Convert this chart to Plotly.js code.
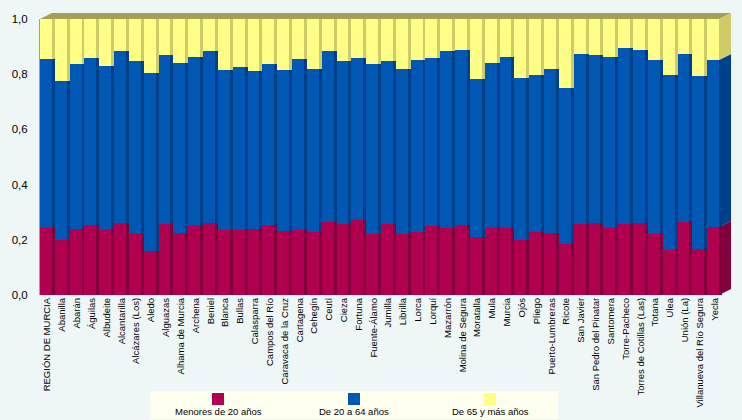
<!DOCTYPE html>
<html>
<head>
<meta charset="utf-8">
<script src="https://cdn.plot.ly/plotly-3.0.1.min.js"></script>
<style>
  body { margin: 0; background: #eef7f6; }
  #chart { width: 742px; height: 420px; }
</style>
</head>
<body>
<div id="chart"></div>
<script>
// municipios de la Región de Murcia
var municipios = ['REGIÓN DE MURCIA', 'Abanilla', 'Abarán', 'Águilas', 'Albudeite', 'Alcantarilla',
  'Alcázares (Los)', 'Aledo', 'Alguazas', 'Alhama de Murcia', 'Archena', 'Beniel', 'Blanca', 'Bullas',
  'Calasparra', 'Campos del Río', 'Caravaca de la Cruz', 'Cartagena', 'Cehegín', 'Ceutí', 'Cieza',
  'Fortuna', 'Fuente-Álamo', 'Jumilla', 'Librilla', 'Lorca', 'Lorquí', 'Mazarrón', 'Molina de Segura',
  'Moratalla', 'Mula', 'Murcia', 'Ojós', 'Pliego', 'Puerto-Lumbreras', 'Ricote', 'San Javier',
  'San Pedro del Pinatar', 'Santomera', 'Torre-Pacheco', 'Torres de Cotillas (Las)', 'Totana', 'Ulea',
  'Unión (La)', 'Villanueva del Río Segura', 'Yecla'];

var menores20 = [0.244, 0.200, 0.239, 0.254, 0.237, 0.262, 0.222, 0.159, 0.257, 0.225, 0.254, 0.261,
  0.237, 0.237, 0.239, 0.254, 0.232, 0.237, 0.229, 0.266, 0.258, 0.273, 0.222, 0.257, 0.221, 0.229,
  0.250, 0.243, 0.254, 0.210, 0.243, 0.243, 0.200, 0.229, 0.225, 0.185, 0.257, 0.261, 0.243, 0.257,
  0.262, 0.222, 0.164, 0.266, 0.167, 0.246];

var de20a64 = [0.611, 0.575, 0.598, 0.605, 0.593, 0.622, 0.626, 0.645, 0.613, 0.616, 0.608, 0.623,
  0.578, 0.589, 0.573, 0.583, 0.583, 0.618, 0.590, 0.618, 0.590, 0.586, 0.615, 0.591, 0.598, 0.622,
  0.609, 0.641, 0.634, 0.573, 0.598, 0.619, 0.586, 0.568, 0.594, 0.565, 0.616, 0.609, 0.619, 0.638,
  0.626, 0.629, 0.633, 0.607, 0.626, 0.605];

var de65 = [0.145, 0.225, 0.163, 0.141, 0.170, 0.116, 0.152, 0.196, 0.130, 0.159, 0.138, 0.116,
  0.185, 0.174, 0.188, 0.163, 0.185, 0.145, 0.181, 0.116, 0.152, 0.141, 0.163, 0.152, 0.181, 0.149,
  0.141, 0.116, 0.112, 0.217, 0.159, 0.138, 0.214, 0.203, 0.181, 0.250, 0.127, 0.130, 0.138, 0.105,
  0.112, 0.149, 0.203, 0.127, 0.207, 0.149];

var nombres = ['Menores de 20 años', 'De 20 a 64 años', 'De 65 y más años'];
var colores = ['#b0004f', '#0058b4', '#ffff88'];
var lados = ['#80003c', '#003f8a', '#cfcb66'];

var series = [menores20, de20a64, de65];

// plot box in pixels
var L = 40, T = 19, W = 682, H = 276;
function px(x) { return (x - L) / W; }
function py(y) { return (T + H - y) / H; }

var data = [];
var bases = [];
var acum = municipios.map(function () { return 0; });
series.forEach(function (s) {
  bases.push(acum.slice());
  acum = acum.map(function (v, i) { return v + s[i]; });
});

// dark side strip behind each bar
series.forEach(function (s, k) {
  data.push({
    type: 'bar', x: municipios, y: s, base: bases[k],
    width: 1, offset: -0.5,
    marker: { color: lados[k] }, showlegend: false, hoverinfo: 'skip'
  });
});
// front faces
series.forEach(function (s, k) {
  data.push({
    type: 'bar', x: municipios, y: s, base: bases[k],
    width: 0.8, offset: -0.5, name: nombres[k],
    marker: { color: colores[k] }, showlegend: false
  });
});

var n = municipios.length;
var dx = 12 / W, dy = 6 / H;
var xEnd = (n - 0.2) / n;
var shapes = [];

// top face of the block
shapes.push({
  type: 'path', xref: 'paper', yref: 'paper', layer: 'above',
  path: 'M0,1 L' + dx + ',' + (1 + dy) + ' L' + (xEnd + dx) + ',' + (1 + dy) + ' L' + xEnd + ',1 Z',
  fillcolor: '#a39f57', line: { width: 0 }
});
// side face of last bar
series.forEach(function (s, k) {
  var b = bases[k][n - 1], t = b + s[n - 1];
  shapes.push({
    type: 'path', xref: 'paper', yref: 'paper', layer: 'above',
    path: 'M' + xEnd + ',' + b + ' L' + (xEnd + dx) + ',' + (b + dy) + ' L' + (xEnd + dx) + ',' + (t + dy) +
      ' L' + xEnd + ',' + t + ' Z',
    fillcolor: lados[k], line: { width: 0 }
  });
});

// legend box
shapes.push({
  type: 'rect', xref: 'paper', yref: 'paper',
  x0: px(150), x1: px(558), y0: py(391), y1: py(419),
  fillcolor: '#fffff0', line: { width: 0 }
});
var annotations = [];
var legX = [218, 354, 490];
nombres.forEach(function (nm, k) {
  shapes.push({
    type: 'rect', xref: 'paper', yref: 'paper',
    x0: px(legX[k] - 6), x1: px(legX[k] + 6), y0: py(405), y1: py(393),
    fillcolor: colores[k], line: { width: 0 }
  });
  annotations.push({
    xref: 'paper', yref: 'paper', x: px(legX[k]), y: py(411),
    text: nm, showarrow: false, xanchor: 'center', yanchor: 'middle',
    font: { family: 'Liberation Sans, Arial, sans-serif', size: 9.5, color: '#000' }
  });
});

var layout = {
  width: 742, height: 420,
  margin: { l: L, r: 742 - L - W, t: T, b: 420 - T - H },
  paper_bgcolor: '#eef7f6', plot_bgcolor: '#eef7f6',
  barmode: 'overlay', bargap: 0,
  separators: ',.',
  xaxis: {
    type: 'category', tickangle: -90, ticks: '', showgrid: false, zeroline: false,
    tickfont: { family: 'Liberation Sans, Arial, sans-serif', size: 9.5, color: '#000' },
    range: [-0.5, n - 0.5], fixedrange: true
  },
  yaxis: {
    range: [0, 1], dtick: 0.2, tickformat: '.1f', showgrid: false, zeroline: false,
    showline: true, linecolor: '#a0a0a0', linewidth: 1, ticks: '', ticklabelstandoff: 9,
    tickfont: { family: 'Liberation Sans, Arial, sans-serif', size: 11.5, color: '#000' }
  },
  shapes: shapes,
  annotations: annotations
};

Plotly.newPlot('chart', data, layout, { displayModeBar: false, staticPlot: true });
</script>
</body>
</html>
